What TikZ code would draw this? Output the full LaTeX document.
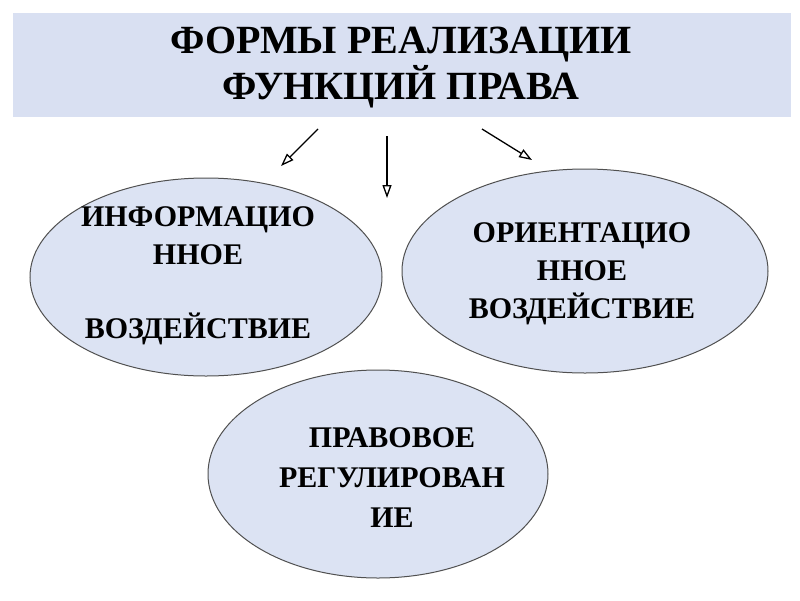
\documentclass[tikz,border=0pt]{standalone}
\usepackage{fontspec}
\setmainfont{Liberation Serif}[BoldFont={Liberation Serif Bold}]
\newfontfamily\serb{Liberation Serif Bold}
\usetikzlibrary{arrows.meta,shapes.geometric}
\definecolor{boxfill}{HTML}{D9E0F2}
\definecolor{ovalfill}{HTML}{DCE3F3}
\definecolor{ovaldraw}{HTML}{505050}
\tikzset{
  titlebox/.style={fill=boxfill, draw=none},
  oval/.style={ellipse, fill=ovalfill, draw=ovaldraw, line width=1pt, inner sep=0pt},
  ovaltext/.style={align=center, font=\serb\fontsize{30}{38}\selectfont, inner sep=0pt},
  titletext/.style={align=center, font=\serb\fontsize{40}{46}\selectfont, inner sep=0pt},
  arr/.style={-{Triangle[open,length=13pt,width=9pt]}, line width=1.3pt}
}
\begin{document}
\begin{tikzpicture}[x=1pt,y=-1pt]
\useasboundingbox (0,0) rectangle (800,600);
\fill[white] (0,0) rectangle (800,600);
\node[titlebox, minimum width=778pt, minimum height=104pt] (title) at (402,65) {};
\node[titletext] (titletxt) at (401,67.5) {ФОРМЫ РЕАЛИЗАЦИИ\\ФУНКЦИЙ ПРАВА};
\coordinate (a1s) at (318,129); \coordinate (a1e) at (281,166);
\coordinate (a2s) at (387,136); \coordinate (a2e) at (387,198);
\coordinate (a3s) at (482,129); \coordinate (a3e) at (532,160);
\draw[arr] (a1s) -- (a1e);
\draw[arr] (a2s) -- (a2e);
\draw[arr] (a3s) -- (a3e);
\node[oval, minimum width=352pt, minimum height=198pt] (info) at (206,277) {};
\node[oval, minimum width=366pt, minimum height=204pt] (orient) at (585,271) {};
\node[oval, minimum width=340pt, minimum height=208pt] (reg) at (378,474) {};
\node[ovaltext] (infotxt) at (198,276) {ИНФОРМАЦИО\\ННОЕ\\[36pt]ВОЗДЕЙСТВИЕ};
\node[ovaltext] (orienttxt) at (582,274) {ОРИЕНТАЦИО\\ННОЕ\\ВОЗДЕЙСТВИЕ};
\node[ovaltext, font=\serb\fontsize{30}{40}\selectfont] (regtxt) at (392,478) {ПРАВОВОЕ\\РЕГУЛИРОВАН\\ИЕ};
\end{tikzpicture}
\end{document}
